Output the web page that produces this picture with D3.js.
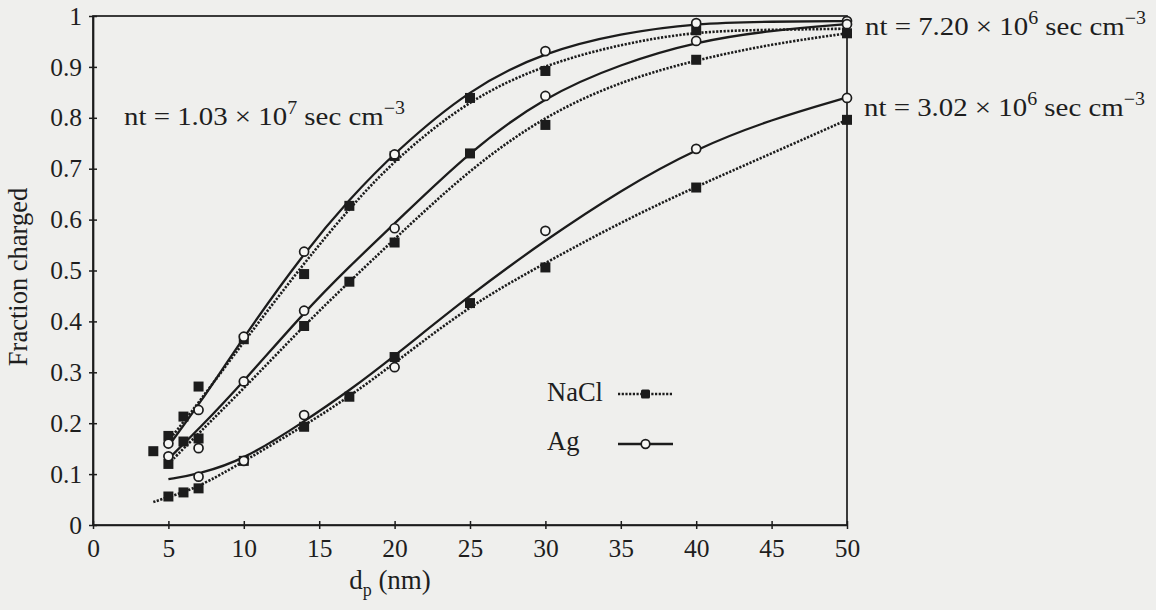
<!DOCTYPE html>
<html>
<head>
<meta charset="utf-8">
<script src="https://cdn.jsdelivr.net/npm/d3@7/dist/d3.min.js"></script>
<style>
  html, body { margin: 0; padding: 0; background: #efefed; }
  svg { display: block; }
  text { font-family: "Liberation Serif", "Times New Roman", serif; fill: #1e1e1e; }
</style>
</head>
<body>
<svg id="chart" width="1156" height="610"></svg>
<script>
// Particle diameter ticks (nm) and fraction-charged ticks
const xTickValues = [0, 5, 10, 15, 20, 25, 30, 35, 40, 45, 50];
const yTickValues = [0, 0.1, 0.2, 0.3, 0.4, 0.5, 0.6, 0.7, 0.8, 0.9, 1];
const yTickLabels = ["0", "0.1", "0.2", "0.3", "0.4", "0.5", "0.6", "0.7", "0.8", "0.9", "1"];

// Measured points, nt = 1.03e7 sec cm^-3
const naclHighD = [4, 5, 6, 7, 10, 14, 17, 20, 25, 30, 40];
const naclHighF = [0.145, 0.175, 0.213, 0.272, 0.365, 0.493, 0.627, 0.725, 0.839, 0.892, 0.972];
const agHighD = [5, 7, 10, 14, 20, 30, 40, 50];
const agHighF = [0.160, 0.226, 0.370, 0.537, 0.728, 0.931, 0.986, 0.990];

// Measured points, nt = 7.20e6 sec cm^-3
const naclMidD = [5, 6, 7, 14, 17, 20, 25, 30, 40, 50];
const naclMidF = [0.120, 0.164, 0.170, 0.391, 0.478, 0.555, 0.730, 0.786, 0.914, 0.966];
const agMidD = [5, 7, 10, 14, 20, 30, 40, 50];
const agMidF = [0.135, 0.151, 0.282, 0.421, 0.583, 0.843, 0.951, 0.984];

// Measured points, nt = 3.02e6 sec cm^-3
const naclLowD = [5, 6, 7, 10, 14, 17, 20, 25, 30, 40, 50];
const naclLowF = [0.056, 0.064, 0.072, 0.126, 0.193, 0.252, 0.330, 0.436, 0.506, 0.663, 0.796];
const agLowD = [7, 10, 14, 20, 30, 40, 50];
const agLowF = [0.095, 0.126, 0.216, 0.310, 0.578, 0.739, 0.839];

// Fitted curves (dotted for NaCl, solid for Ag)
const fitD = [5, 7, 10, 14, 17, 20, 25, 30, 35, 40, 45, 50];
const fitNaclHigh = [0.165, 0.240, 0.360, 0.515, 0.622, 0.718, 0.838, 0.905, 0.945, 0.970, 0.973, 0.975];
const fitAgHigh   = [0.155, 0.235, 0.370, 0.535, 0.640, 0.732, 0.858, 0.930, 0.966, 0.986, 0.989, 0.990];
const fitNaclMid  = [0.120, 0.180, 0.268, 0.392, 0.478, 0.562, 0.700, 0.805, 0.872, 0.914, 0.945, 0.966];
const fitAgMid    = [0.130, 0.188, 0.282, 0.418, 0.508, 0.592, 0.735, 0.843, 0.906, 0.950, 0.972, 0.984];
const fitNaclLowD = [4, 5, 7, 10, 14, 17, 20, 25, 30, 35, 40, 45, 50];
const fitNaclLow  = [0.045, 0.055, 0.074, 0.125, 0.195, 0.252, 0.318, 0.432, 0.515, 0.595, 0.665, 0.730, 0.796];
const fitAgLow    = [0.090, 0.100, 0.128, 0.203, 0.264, 0.332, 0.452, 0.560, 0.658, 0.740, 0.797, 0.840];

const svg = d3.select("#chart");
const x = d3.scaleLinear().domain([0, 50]).range([93, 847]);
const y = d3.scaleLinear().domain([0, 1]).range([525, 16]);
const ink = "#1c1c1c";

// Frame
svg.append("rect")
  .attr("x", x(0)).attr("y", y(1))
  .attr("width", x(50) - x(0)).attr("height", y(0) - y(1))
  .attr("fill", "none").attr("stroke", ink).attr("stroke-width", 1.7);

// Axes with ticks crossing the frame
const xAxis = svg.append("g").attr("transform", `translate(0,${y(0)})`)
  .call(d3.axisBottom(x).tickValues(xTickValues).tickSize(5).tickSizeOuter(0).tickPadding(9));
xAxis.selectAll(".tick line").attr("y1", -4).attr("y2", 4);
const yAxis = svg.append("g").attr("transform", `translate(${x(0)},0)`)
  .call(d3.axisLeft(y).tickValues(yTickValues).tickFormat((d, i) => yTickLabels[i])
    .tickSize(5).tickSizeOuter(0).tickPadding(6));
yAxis.selectAll(".tick line").attr("x1", -4).attr("x2", 4);
[xAxis, yAxis].forEach(a => {
  a.select(".domain").attr("stroke", ink).attr("stroke-width", 1.7);
  a.selectAll(".tick line").attr("stroke", ink).attr("stroke-width", 1.5);
  a.selectAll("text").attr("font-size", 25.5).attr("fill", ink)
    .style("font-family", '"Liberation Serif", serif');
});
xAxis.selectAll("text").attr("dy", "0.71em");

// Axis titles
const xt = svg.append("text").attr("x", 390).attr("y", 589).attr("text-anchor", "middle")
  .attr("font-size", 27);
xt.append("tspan").text("d");
xt.append("tspan").attr("dy", 7).attr("font-size", 18).text("p");
xt.append("tspan").attr("dy", -7).text(" (nm)");

svg.append("text")
  .attr("transform", "translate(27,277) rotate(-90)")
  .attr("text-anchor", "middle").attr("font-size", 26.5)
  .text("Fraction charged");

// Curves
const line = d3.line().x(d => x(d[0])).y(d => y(d[1])).curve(d3.curveBasis);
const zip = (a, b) => a.map((v, i) => [v, b[i]]);
const dotted = { dash: "2.2,1.5", width: 2.6 };
function drawCurve(ds, fs, isDotted) {
  svg.append("path").datum(zip(ds, fs))
    .attr("d", line).attr("fill", "none").attr("stroke", ink)
    .attr("stroke-width", isDotted ? dotted.width : 2.3)
    .attr("stroke-dasharray", isDotted ? dotted.dash : null);
}
drawCurve(fitD, fitNaclHigh, true);
drawCurve(fitD, fitAgHigh, false);
drawCurve(fitD, fitNaclMid, true);
drawCurve(fitD, fitAgMid, false);
drawCurve(fitNaclLowD, fitNaclLow, true);
drawCurve(fitD, fitAgLow, false);

// Markers
function squares(ds, fs) {
  svg.append("g").selectAll("rect").data(zip(ds, fs)).join("rect")
    .attr("x", d => x(d[0]) - 5).attr("y", d => y(d[1]) - 5)
    .attr("width", 10).attr("height", 10).attr("fill", ink);
}
function circles(ds, fs) {
  svg.append("g").selectAll("circle").data(zip(ds, fs)).join("circle")
    .attr("cx", d => x(d[0])).attr("cy", d => y(d[1])).attr("r", 4.5)
    .attr("fill", "#f6f6f4").attr("stroke", ink).attr("stroke-width", 1.7);
}
squares(naclHighD, naclHighF);
squares(naclMidD, naclMidF);
squares(naclLowD, naclLowF);
circles(agHighD, agHighF);
circles(agMidD, agMidF);
circles(agLowD, agLowF);

// Curve labels, set slightly wide like the printed figure
function ntLabel(px, py, mant, exp) {
  const t = svg.append("text")
    .attr("transform", `translate(${px},${py}) scale(1.11,1)`)
    .attr("font-size", 26);
  t.append("tspan").text(`nt = ${mant} × 10`);
  t.append("tspan").attr("dy", -11).attr("font-size", 18).text(exp);
  t.append("tspan").attr("dy", 11).text(" sec cm");
  t.append("tspan").attr("dy", -11).attr("font-size", 18).text("−3");
}
ntLabel(124, 125, "1.03", "7");
ntLabel(865, 35, "7.20", "6");
ntLabel(864, 116, "3.02", "6");

// Legend
const legend = svg.append("g");
legend.append("text").attr("x", 547).attr("y", 401).attr("font-size", 26.5).text("NaCl");
legend.append("text").attr("x", 547).attr("y", 450).attr("font-size", 26.5).text("Ag");
legend.append("line").attr("x1", 618).attr("x2", 673).attr("y1", 394).attr("y2", 394)
  .attr("stroke", ink).attr("stroke-width", dotted.width).attr("stroke-dasharray", dotted.dash);
legend.append("rect").attr("x", 641).attr("y", 389.5).attr("width", 9).attr("height", 9)
  .attr("rx", 1.5).attr("fill", ink);
legend.append("line").attr("x1", 618).attr("x2", 673).attr("y1", 444).attr("y2", 444)
  .attr("stroke", ink).attr("stroke-width", 2.3);
legend.append("circle").attr("cx", 645.5).attr("cy", 444).attr("r", 4.3)
  .attr("fill", "#f6f6f4").attr("stroke", ink).attr("stroke-width", 1.7);
</script>
</body>
</html>
